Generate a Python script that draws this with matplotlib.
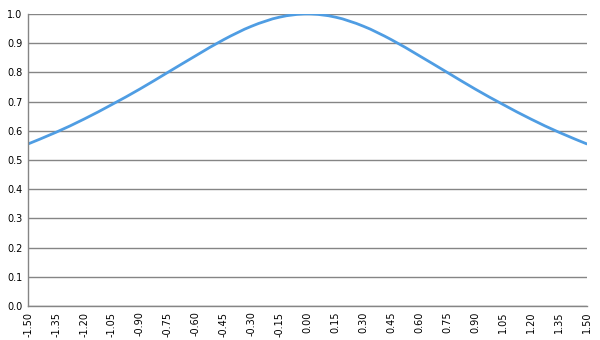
import matplotlib.pyplot as plt
from matplotlib.path import Path
from matplotlib.patches import PathPatch

# Values (x categories and curve heights)
x_labels = ['-1.50', '-1.35', '-1.20', '-1.05', '-0.90', '-0.75', '-0.60',
            '-0.45', '-0.30', '-0.15', '0.00', '0.15', '0.30', '0.45',
            '0.60', '0.75', '0.90', '1.05', '1.20', '1.35', '1.50']
y_values = [0.555, 0.595, 0.640, 0.690, 0.743, 0.800, 0.857,
            0.912, 0.958, 0.989, 1.000, 0.989, 0.958, 0.912,
            0.857, 0.800, 0.743, 0.690, 0.640, 0.595, 0.555]
y_ticks = [0.0, 0.1, 0.2, 0.3, 0.4, 0.5, 0.6, 0.7, 0.8, 0.9, 1.0]

fig = plt.figure(figsize=(6, 3.4), dpi=100)
ax = fig.add_axes([0.047, 0.1, 0.931, 0.859])

pos = list(range(len(x_labels)))
pts = list(zip(pos, y_values))

# smoothed line like the spreadsheet one: cubic Bezier segments through the points
verts = [pts[0]]
codes = [Path.MOVETO]
for i in range(len(pts) - 1):
    p0 = pts[max(i - 1, 0)]
    p1 = pts[i]
    p2 = pts[i + 1]
    p3 = pts[min(i + 2, len(pts) - 1)]
    c1 = (p1[0] + (p2[0] - p0[0]) / 6, p1[1] + (p2[1] - p0[1]) / 6)
    c2 = (p2[0] - (p3[0] - p1[0]) / 6, p2[1] - (p3[1] - p1[1]) / 6)
    verts += [c1, c2, p2]
    codes += [Path.CURVE4] * 3
ax.add_patch(PathPatch(Path(verts, codes), facecolor='none',
                       edgecolor='#4f9de3', linewidth=2.0, capstyle='round'))

ax.set_xlim(0, len(x_labels) - 1)
ax.set_ylim(0, 1.0)
ax.set_yticks(y_ticks)
ax.set_yticklabels(['%.1f' % v for v in y_ticks], fontsize=7)
ax.set_xticks(pos)
ax.set_xticklabels(x_labels, rotation=90, fontsize=7)
ax.tick_params(axis='both', length=0, pad=4)

ax.yaxis.grid(True, color='#858585', linewidth=1.0)
ax.set_axisbelow(True)
for side in ['top', 'right']:
    ax.spines[side].set_visible(False)
for side in ['left', 'bottom']:
    ax.spines[side].set_color('#858585')
    ax.spines[side].set_linewidth(1.0)

fig.savefig('out.png', dpi=100)
